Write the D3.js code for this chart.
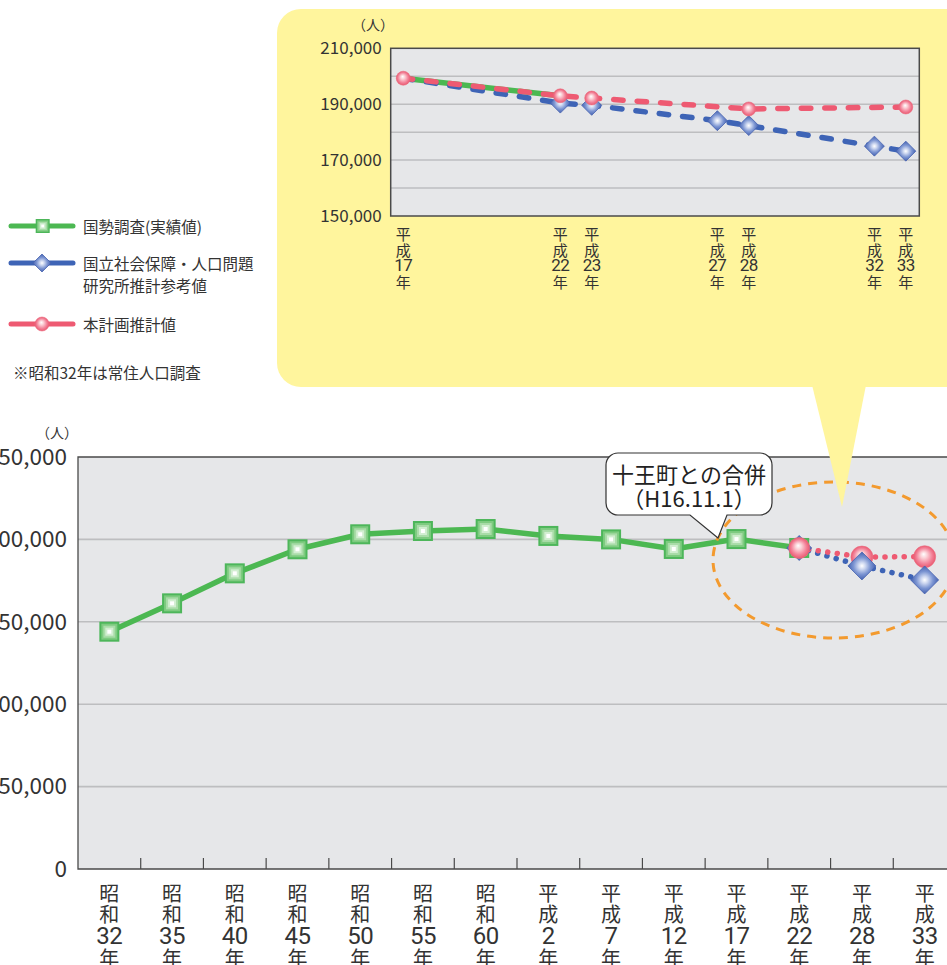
<!DOCTYPE html>
<html><head><meta charset="utf-8">
<script src="https://cdn.jsdelivr.net/npm/d3@7"></script>
<style>body{margin:0;background:#fff} svg{display:block}</style>
</head><body><svg id="c" width="947" height="965"></svg>
<script>
// ---------- data ----------
const mainEras = ["昭和","昭和","昭和","昭和","昭和","昭和","昭和","平成","平成","平成","平成","平成","平成","平成"];
const mainYearNums = ["32","35","40","45","50","55","60","2","7","12","17","22","28","33"];
const mainCategories = mainEras.map((e,i)=>e+mainYearNums[i]+"年");
const censusValues = [144000,161200,179400,194000,203100,205100,206300,202100,200000,194200,200200,194800,null,null];
const projCategories = ["平成22年","平成28年","平成33年"];
const ipssValues = [194800,183900,175400];
const planValues = [194800,189300,189500];
const mainYTicks = [0,50000,100000,150000,200000,250000];

const insetLabelYears = [17,22,23,27,28,32,33];
const insetCensusYears = [17,22];
const insetCensusValues = [199300,193000];
const insetIpssYears = [17,22,23,27,28,32,33];
const insetIpssValues = [199300,190400,189600,184100,182350,175000,173200];
const insetIpssMarkerYears = [22,23,27,28,32,33];
const insetPlanYears = [17,22,23,28,33];
const insetPlanValues = [199300,193000,192200,188300,189000];
const insetYTicks = [150000,170000,190000,210000];
const insetGrid = [160000,170000,180000,190000,200000];

const legendItems = ["国勢調査(実績値)","国立社会保障・人口問題","研究所推計参考値","本計画推計値"];
const noteText = "※昭和32年は常住人口調査";
const calloutLines = ["十王町との合併","（H16.11.1）"];

// ---------- styles ----------
const FONT = "'Noto Sans CJK JP',sans-serif";
const DIGIT = "Roboto,'Noto Sans CJK JP',sans-serif";
const GREEN = "#4CB852", BLUE = "#3E64B6", PINK = "#EE5A72";
const PLOTBG = "#E6E7E9", GRID = "#BDBEC0", FRAME = "#4a4a4a", TXT = "#333";
const YELLOW = "#FFF59D";

const svg = d3.select("#c").style("font-family", FONT);
const defs = svg.append("defs");
const dg = defs.append("radialGradient").attr("id","gDia");
[[0,"#ffffff"],[0.25,"#cdd7f0"],[0.6,"#7c95d2"],[1,"#4461b0"]].forEach(s=>dg.append("stop").attr("offset",s[0]).attr("stop-color",s[1]));
const cg = defs.append("radialGradient").attr("id","gCir").attr("fx",0.45).attr("fy",0.38);
[[0,"#ffffff"],[0.3,"#fbd0d6"],[0.7,"#f3849a"],[1,"#e95a71"]].forEach(s=>cg.append("stop").attr("offset",s[0]).attr("stop-color",s[1]));

function square(g,x,y,s){
  const cols=["#4DB65A","#7ECB80","#A9DCA8","#D2EED1","#FFFFFF"];
  cols.forEach((c,i)=>{const w=s*(1-i*0.2);g.append("rect").attr("x",x-w/2).attr("y",y-w/2).attr("width",w).attr("height",w).attr("fill",c);});
}
function diamond(g,x,y,h){
  g.append("path").attr("d",`M${x},${y-h}L${x+h},${y}L${x},${y+h}L${x-h},${y}Z`).attr("fill","url(#gDia)").attr("stroke","#4863B0").attr("stroke-width",0.8);
}
function circle(g,x,y,r){
  g.append("circle").attr("cx",x).attr("cy",y).attr("r",r).attr("fill","url(#gCir)").attr("stroke","#ec6b80").attr("stroke-width",0.6);
}
// stacked vertical label as one text element
function stackLabel(g,x,parts,ys,size,numSize){
  const t=g.append("text").attr("text-anchor","middle").attr("fill",TXT).attr("font-size",size);
  parts.forEach((p,i)=>{
    const isNum=/^[0-9]+$/.test(p);
    const ts=t.append("tspan").attr("x",x).attr("y",ys[i]).attr("dominant-baseline","central").text(p);
    if(isNum) ts.attr("font-family",DIGIT).attr("font-size",numSize).attr("letter-spacing",-0.5);
  });
}

// ---------- yellow panel ----------
svg.append("rect").attr("x",277).attr("y",9).attr("width",720).attr("height",378).attr("rx",24).attr("fill",YELLOW);

// ---------- inset ----------
const ix = d3.scaleLinear().domain([16.6,33.43]).range([390.7,919.3]);
const iy = d3.scaleLinear().domain([150000,210000]).range([216,48.3]);
const ig = svg.append("g");
ig.append("rect").attr("x",ix.range()[0]).attr("y",iy(210000)).attr("width",ix.range()[1]-ix.range()[0]).attr("height",iy(150000)-iy(210000)).attr("fill",PLOTBG);
ig.selectAll("line.g").data(insetGrid).join("line").attr("x1",ix.range()[0]).attr("x2",ix.range()[1]).attr("y1",d=>iy(d)).attr("y2",d=>iy(d)).attr("stroke",GRID).attr("stroke-width",1.5);
ig.append("rect").attr("x",ix.range()[0]).attr("y",iy(210000)).attr("width",ix.range()[1]-ix.range()[0]).attr("height",iy(150000)-iy(210000)).attr("fill","none").attr("stroke",FRAME).attr("stroke-width",1.5);
const iyAxis = ig.append("g").attr("transform",`translate(${ix.range()[0]},0)`).call(d3.axisLeft(iy).tickValues(insetYTicks).tickSize(0).tickPadding(9).tickFormat(d3.format(",")));
iyAxis.select(".domain").remove();
iyAxis.selectAll("text").attr("font-size",17).attr("fill",TXT).attr("font-family",FONT);
ig.append("text").attr("x",373).attr("y",24).attr("text-anchor","middle").attr("dominant-baseline","central").attr("font-size",14).attr("fill",TXT).text("（人）");
insetLabelYears.forEach(yr=>stackLabel(ig,ix(yr),["平","成",String(yr),"年"],[233,249,265,281],15,17));
const iline = d3.line().x(d=>ix(d[0])).y(d=>iy(d[1]));
ig.append("path").attr("d",iline(insetCensusYears.map((y,i)=>[y,insetCensusValues[i]]))).attr("fill","none").attr("stroke",GREEN).attr("stroke-width",5.5);
ig.append("path").attr("d",iline(insetIpssYears.map((y,i)=>[y,insetIpssValues[i]]))).attr("fill","none").attr("stroke",BLUE).attr("stroke-width",5.5).attr("stroke-dasharray","9.5 14").attr("stroke-linecap","round");
ig.append("path").attr("d",iline(insetPlanYears.map((y,i)=>[y,insetPlanValues[i]]))).attr("fill","none").attr("stroke",PINK).attr("stroke-width",5.5).attr("stroke-dasharray","9.5 14").attr("stroke-linecap","round");
insetIpssMarkerYears.forEach(yr=>{const i=insetIpssYears.indexOf(yr);diamond(ig,ix(yr),iy(insetIpssValues[i]),10);});
insetPlanYears.forEach((yr,i)=>circle(ig,ix(yr),iy(insetPlanValues[i]),7));

// ---------- legend ----------
const lg = svg.append("g");
const lt=(s,x,y)=>lg.append("text").attr("x",x).attr("y",y).attr("dominant-baseline","central").attr("font-size",15.5).attr("fill",TXT).text(s);
lg.append("line").attr("x1",11).attr("x2",73).attr("y1",226).attr("y2",226).attr("stroke",GREEN).attr("stroke-width",5).attr("stroke-linecap","round");
square(lg,42.7,226,14);
lt(legendItems[0],83,226);
lg.append("line").attr("x1",11).attr("x2",73).attr("y1",263).attr("y2",263).attr("stroke",BLUE).attr("stroke-width",5).attr("stroke-linecap","round");
diamond(lg,42,263,9);
lt(legendItems[1],83,263); lt(legendItems[2],83,285);
lg.append("line").attr("x1",11).attr("x2",73).attr("y1",324).attr("y2",324).attr("stroke",PINK).attr("stroke-width",5).attr("stroke-linecap","round");
circle(lg,42,324,7);
lt(legendItems[3],83,324);
lt(noteText,13,372);

// ---------- main chart ----------
const x = d3.scaleBand().domain(mainCategories).range([78,956]).padding(0);
const cx = c => x(c)+x.bandwidth()/2;
const y = d3.scaleLinear().domain([0,250000]).range([869,457]);
const mg = svg.append("g");
mg.append("rect").attr("x",78).attr("y",y(250000)).attr("width",956-78).attr("height",y(0)-y(250000)).attr("fill",PLOTBG);
mg.selectAll("line.grid").data([50000,100000,150000,200000]).join("line").attr("x1",78).attr("x2",956).attr("y1",d=>y(d)).attr("y2",d=>y(d)).attr("stroke",GRID).attr("stroke-width",1.6);
mg.append("path").attr("d",`M956,${y(250000)}H78V${y(0)}H956`).attr("fill","none").attr("stroke",FRAME).attr("stroke-width",1.3);
mainCategories.slice(1).forEach(c=>mg.append("line").attr("x1",x(c)).attr("x2",x(c)).attr("y1",y(0)).attr("y2",y(0)-11).attr("stroke",FRAME).attr("stroke-width",1.2));
const yAxis = mg.append("g").attr("transform","translate(78,0)").call(d3.axisLeft(y).tickValues(mainYTicks).tickSize(0).tickPadding(11).tickFormat(d3.format(",")));
yAxis.select(".domain").remove();
yAxis.selectAll("text").attr("font-size",22.5).attr("fill",TXT).attr("font-family",FONT);
mg.append("text").attr("x",57).attr("y",432).attr("text-anchor","middle").attr("dominant-baseline","central").attr("font-size",14).attr("fill",TXT).text("（人）");
mainCategories.forEach((c,i)=>stackLabel(mg,cx(c),[mainEras[i][0],mainEras[i][1],mainYearNums[i],"年"],[892,913,935.5,957],20,24));
const cpts = mainCategories.map((c,i)=>[cx(c),censusValues[i]]).filter(d=>d[1]!=null);
mg.append("path").attr("d",d3.line().x(d=>d[0]).y(d=>y(d[1]))(cpts)).attr("fill","none").attr("stroke",GREEN).attr("stroke-width",5.5).attr("stroke-linejoin","round");
cpts.forEach(d=>square(mg,d[0],y(d[1]),20));
const pline = d3.line().x(d=>cx(d[0])).y(d=>y(d[1]));
mg.append("path").attr("d",pline(projCategories.map((c,i)=>[c,ipssValues[i]]))).attr("fill","none").attr("stroke",BLUE).attr("stroke-width",5.5).attr("stroke-dasharray","0.1 9.5").attr("stroke-linecap","round");
mg.append("path").attr("d",pline(projCategories.map((c,i)=>[c,planValues[i]]))).attr("fill","none").attr("stroke",PINK).attr("stroke-width",5.5).attr("stroke-dasharray","0.1 9.5").attr("stroke-linecap","round");
diamond(mg,cx(projCategories[0]),y(ipssValues[0]),12.5);
projCategories.forEach((c,i)=>circle(mg,cx(c),y(planValues[i]),i===0?10.5:11));
projCategories.slice(1).forEach((c,j)=>diamond(mg,cx(c),y(ipssValues[j+1]),14));

// ---------- ellipse ----------
svg.append("ellipse").attr("cx",834).attr("cy",560).attr("rx",121).attr("ry",78).attr("fill","none").attr("stroke","#F39A2E").attr("stroke-width",3).attr("stroke-dasharray","9 7");

// ---------- callout ----------
svg.append("path").attr("d","M618,453H760A12,12 0 0 1 772,465V503A12,12 0 0 1 760,515H727L718,538L690,515H618A12,12 0 0 1 606,503V465A12,12 0 0 1 618,453Z").attr("fill","#fff").attr("stroke","#333").attr("stroke-width",1.2);
const ct = svg.append("text").attr("text-anchor","middle").attr("font-size",22).attr("fill","#222");
ct.append("tspan").attr("x",689).attr("y",473).attr("dominant-baseline","central").text(calloutLines[0]);
ct.append("tspan").attr("x",689).attr("y",497).attr("dominant-baseline","central").text(calloutLines[1]);

// ---------- yellow pointer ----------
svg.append("path").attr("d","M812,385L866,385L842,507Z").attr("fill",YELLOW);
</script></body></html>
